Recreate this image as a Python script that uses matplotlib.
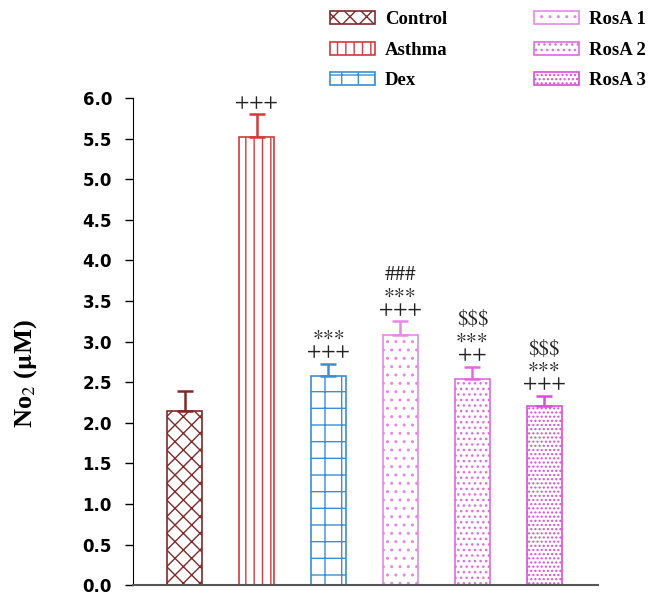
import numpy as np
import matplotlib.pyplot as plt

plt.rcParams["mathtext.fontset"] = "stix"

# ============================================
# DATA
# ============================================

groups = ["Control", "Asthma", "Dex", "RosA 1", "RosA 2", "RosA 3"]
means = [2.14, 5.52, 2.58, 3.08, 2.54, 2.21]
errors = [0.25, 0.28, 0.15, 0.17, 0.15, 0.12]
marks = ["", "+++", "∗∗∗\n+++", "###\n∗∗∗\n+++", "$$$\n∗∗∗\n++", "$$$\n∗∗∗\n+++"]
yticks = [0.0, 0.5, 1.0, 1.5, 2.0, 2.5, 3.0, 3.5, 4.0, 4.5, 5.0, 5.5, 6.0]

colors = ["#7e2a2a", "#d23a3a", "#3a8fd0", "#e48ae4", "#de6cde", "#d94ed9"]
hatches = ["xx", "||", "+", "..", "...", "...."]

# ============================================
# PLOT
# ============================================

fig = plt.figure(figsize=(6.61, 6.02), dpi=100)
ax = fig.add_axes([0.201, 0.028, 0.704, 0.809])

x = np.arange(len(groups))
handles = []
for i in range(len(groups)):
    b = ax.bar(x[i], means[i], width=0.48, color="white", edgecolor=colors[i],
               hatch=hatches[i], linewidth=1.2, label=groups[i], zorder=2)
    handles.append(b)
    ax.errorbar(x[i], means[i], yerr=[[0], [errors[i]]], fmt="none",
                ecolor=colors[i], elinewidth=1.8, capsize=6, capthick=1.8, zorder=3)
    if marks[i]:
        ax.annotate(marks[i], (x[i], means[i] + errors[i]), xytext=(0, 1),
                    textcoords="offset points", ha="center", va="bottom",
                    fontsize=15, family=["STIXGeneral", "DejaVu Sans"],
                    color="#222222", linespacing=0.85, parse_math=False)

ax.set_xlim(-0.72, 5.75)
ax.set_ylim(0, 6.0)
ax.set_xticks([])
ax.set_yticks(yticks)
ax.set_yticklabels([f"{t:.1f}" for t in yticks], fontsize=12, fontweight="bold",
                   family="DejaVu Sans")
ax.tick_params(axis="y", direction="out", length=6, width=1, pad=9)
ax.spines["top"].set_visible(False)
ax.spines["right"].set_visible(False)
ax.spines["bottom"].set_color("#555555")
ax.spines["bottom"].set_linewidth(1.5)

fig.text(0.038, 0.38, "No$_2$ ($\\mathbf{\\mu}$M)", rotation=90, ha="center", va="center",
         fontsize=19, fontweight="bold", family="Liberation Serif")

fig.legend(handles=handles, loc="upper left", bbox_to_anchor=(0.482, 1.0), ncol=2,
           frameon=False, prop={"family": "Liberation Serif", "weight": "bold", "size": 13.5},
           handlelength=2.4, handleheight=0.7, handletextpad=0.55,
           labelspacing=0.7, columnspacing=4.6, borderaxespad=0.2)

plt.savefig("out.png", dpi=100)
